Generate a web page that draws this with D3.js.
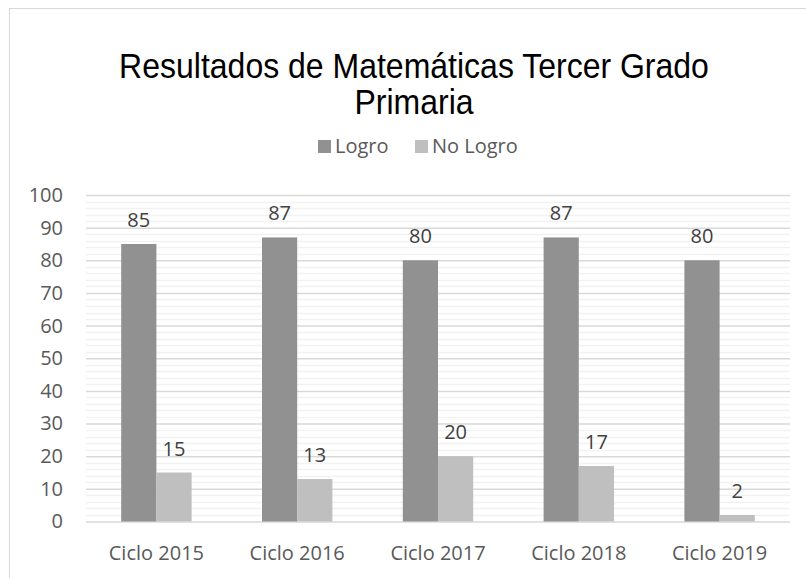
<!DOCTYPE html>
<html>
<head>
<meta charset="utf-8">
<script src="https://cdn.jsdelivr.net/npm/d3@7"></script>
<style>
  body { margin: 0; background: #fff; }
  svg { display: block; }
</style>
</head>
<body>
<div class="canvas"></div>
<script>
const categories = ['Ciclo 2015', 'Ciclo 2016', 'Ciclo 2017', 'Ciclo 2018', 'Ciclo 2019'];
const logro = [85, 87, 80, 87, 80];
const noLogro = [15, 13, 20, 17, 2];
const seriesNames = ['Logro', 'No Logro'];
const yTicks = [0, 10, 20, 30, 40, 50, 60, 70, 80, 90, 100];
const titleLines = ['Resultados de Matemáticas Tercer Grado', 'Primaria'];

const dims = { width: 806, height: 578 };
const plot = { left: 86, right: 790, top: 195, bottom: 521.5 };
const colours = { 'Logro': '#919191', 'No Logro': '#bfbfbf' };
const labelFont = '"Open Sans", "Noto Sans", sans-serif';

const svg = d3.select('.canvas')
  .append('svg')
  .attr('width', dims.width)
  .attr('height', dims.height);

// chart border (runs off the right / bottom edge)
svg.append('rect')
  .attr('x', 9.5)
  .attr('y', 8.5)
  .attr('width', 900)
  .attr('height', 700)
  .attr('fill', '#fff')
  .attr('stroke', '#d9d9d9');

const x = d3.scaleBand()
  .domain(categories)
  .range([plot.left, plot.right]);

const y = d3.scaleLinear()
  .domain([0, 100])
  .range([plot.bottom, plot.top]);

// bar width: two bars + gap of 200%
const barW = x.bandwidth() / 4;

// minor gridlines every 2
const minor = d3.range(0, 101, 2).filter(v => v % 10 !== 0);
svg.append('g')
  .selectAll('line')
  .data(minor)
  .enter()
  .append('line')
    .attr('x1', plot.left)
    .attr('x2', plot.right)
    .attr('y1', d => Math.round(y(d)) + 0.5)
    .attr('y2', d => Math.round(y(d)) + 0.5)
    .attr('stroke', '#f2f2f2')
    .attr('stroke-width', 1.5);

// major gridlines
const yAxis = svg.append('g')
  .attr('transform', `translate(${plot.left}, 0)`)
  .call(d3.axisLeft(y)
    .tickValues(yTicks)
    .tickSize(-(plot.right - plot.left))
    .tickPadding(23));

yAxis.select('.domain').remove();
yAxis.selectAll('.tick line')
  .attr('stroke', '#d9d9d9')
  .attr('stroke-width', 1.5);
yAxis.selectAll('.tick text')
  .attr('fill', '#595959')
  .style('font-family', labelFont)
  .style('font-size', '20px');

// bars
const groups = svg.append('g')
  .selectAll('g')
  .data(categories)
  .enter()
  .append('g')
  .attr('transform', d => `translate(${x(d) + x.bandwidth() / 2}, 0)`);

const series = [logro, noLogro];
series.forEach((vals, si) => {
  groups.append('rect')
    .attr('x', si === 0 ? -barW : 0)
    .attr('y', (d, i) => y(vals[i]))
    .attr('width', barW)
    .attr('height', (d, i) => y(0) - y(vals[i]))
    .attr('fill', colours[seriesNames[si]]);

  groups.append('text')
    .attr('x', si === 0 ? -barW / 2 : barW / 2)
    .attr('y', (d, i) => y(vals[i]) - 17)
    .attr('text-anchor', 'middle')
    .attr('fill', '#404040')
    .style('font-family', labelFont)
    .style('font-size', '20px')
    .text((d, i) => vals[i]);
});

// category labels
svg.append('g')
  .selectAll('text')
  .data(categories)
  .enter()
  .append('text')
    .attr('x', d => x(d) + x.bandwidth() / 2)
    .attr('y', 560)
    .attr('text-anchor', 'middle')
    .attr('fill', '#595959')
    .style('font-family', labelFont)
    .style('font-size', '20px')
    .text(d => d);

// title (slightly stretched vertically like the original)
const titleBase = [78, 114];
svg.selectAll('.title')
  .data(titleLines)
  .enter()
  .append('text')
    .attr('class', 'title')
    .attr('transform', (d, i) => `translate(414, ${titleBase[i]}) scale(1, 1.08)`)
    .attr('text-anchor', 'middle')
    .attr('fill', '#000')
    .style('font-family', '"Liberation Sans", Arial, sans-serif')
    .style('font-size', '32px')
    .text(d => d);

// legend
const legendX = [318, 415];
const legend = svg.selectAll('.legend')
  .data(seriesNames)
  .enter()
  .append('g')
  .attr('class', 'legend')
  .attr('transform', (d, i) => `translate(${legendX[i]}, 146)`);

legend.append('rect')
  .attr('y', -6)
  .attr('width', 13)
  .attr('height', 13)
  .attr('fill', d => colours[d]);

legend.append('text')
  .attr('x', 17)
  .attr('y', 7)
  .attr('fill', '#595959')
  .style('font-family', labelFont)
  .style('font-size', '20px')
  .text(d => d);
</script>
</body>
</html>
